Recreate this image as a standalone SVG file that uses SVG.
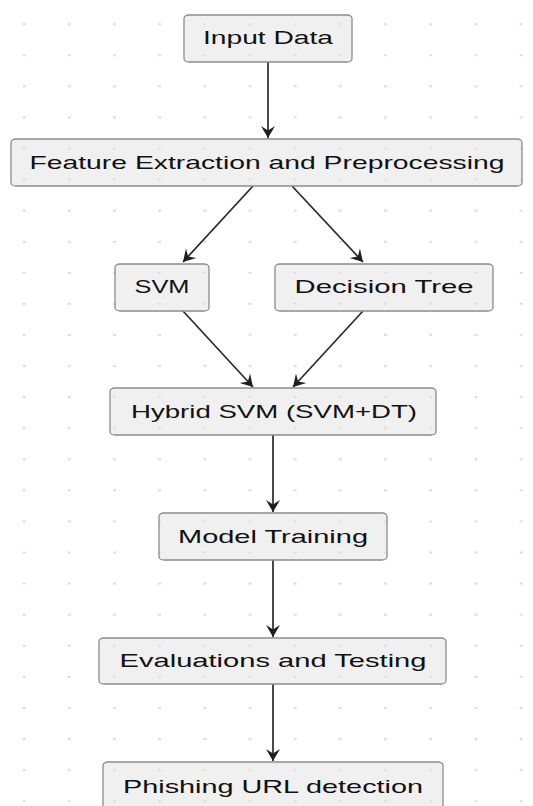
<svg xmlns="http://www.w3.org/2000/svg" width="533" height="806" viewBox="0 0 533 806">
  <defs>
    <pattern id="dots" patternUnits="userSpaceOnUse" x="0" y="0" width="45.18" height="31.08">
      <rect x="22.7" y="23.2" width="2.8" height="1.8" fill="#d6d6d6"/>
    </pattern>
    <marker id="arrow" markerUnits="userSpaceOnUse" markerWidth="18" markerHeight="18" viewBox="-13 -9 15 18" refX="0" refY="0" orient="auto">
      <path d="M0,0 L-12,-7 L-7.5,0 L-12,7 Z" fill="#1e1e1e"/>
    </marker>
    <style>
      .box { fill: #e2e2e2; fill-opacity: 0.5; stroke: #8c8c8c; stroke-width: 1.3; }
      .lbl { font-family: "Liberation Sans", Arial, sans-serif; font-size: 18.5px; fill: #111; text-anchor: middle; }
      .edge { stroke: #2a2a2a; stroke-width: 1.7; fill: none; marker-end: url(#arrow); }
    </style>
  </defs>
  <rect x="0" y="0" width="533" height="806" fill="#ffffff"/>
  <rect x="0" y="0" width="533" height="806" fill="url(#dots)"/>

  <g id="connectors">
    <line class="edge" x1="268" y1="62" x2="268" y2="138"/>
    <line class="edge" x1="253" y1="186" x2="183" y2="262"/>
    <line class="edge" x1="292" y1="186" x2="363" y2="262"/>
    <line class="edge" x1="183" y1="311" x2="253" y2="387"/>
    <line class="edge" x1="363" y1="311" x2="293" y2="387"/>
    <line class="edge" x1="273" y1="435" x2="273" y2="512"/>
    <line class="edge" x1="273" y1="560" x2="273" y2="637"/>
    <line class="edge" x1="273" y1="684" x2="273" y2="761"/>
  </g>

  <g id="input-data">
    <rect class="box" x="184" y="15" width="168" height="47" rx="5" ry="3.5"/>
    <text class="lbl" x="268" y="44" textLength="130" lengthAdjust="spacingAndGlyphs">Input Data</text>
  </g>
  <g id="feature-extraction">
    <rect class="box" x="11" y="139" width="511" height="47" rx="5" ry="3.5"/>
    <text class="lbl" x="267" y="169" textLength="475" lengthAdjust="spacingAndGlyphs">Feature Extraction and Preprocessing</text>
  </g>
  <g id="svm">
    <rect class="box" x="115" y="264" width="94" height="47" rx="5" ry="3.5"/>
    <text class="lbl" x="162" y="293" textLength="55" lengthAdjust="spacingAndGlyphs">SVM</text>
  </g>
  <g id="decision-tree">
    <rect class="box" x="275" y="264" width="218" height="47" rx="5" ry="3.5"/>
    <text class="lbl" x="384" y="293" textLength="179" lengthAdjust="spacingAndGlyphs">Decision Tree</text>
  </g>
  <g id="hybrid-svm">
    <rect class="box" x="110" y="388" width="326" height="47" rx="5" ry="3.5"/>
    <text class="lbl" x="274" y="418" textLength="286" lengthAdjust="spacingAndGlyphs">Hybrid SVM (SVM+DT)</text>
  </g>
  <g id="model-training">
    <rect class="box" x="159" y="513" width="228" height="47" rx="5" ry="3.5"/>
    <text class="lbl" x="273" y="543" textLength="190" lengthAdjust="spacingAndGlyphs">Model Training</text>
  </g>
  <g id="evaluations-testing">
    <rect class="box" x="99" y="638" width="347" height="46" rx="5" ry="3.5"/>
    <text class="lbl" x="273" y="667" textLength="307" lengthAdjust="spacingAndGlyphs">Evaluations and Testing</text>
  </g>
  <g id="phishing-detection">
    <rect class="box" x="103" y="762" width="340" height="47" rx="5" ry="3.5"/>
    <text class="lbl" x="273" y="793" textLength="300" lengthAdjust="spacingAndGlyphs">Phishing URL detection</text>
  </g>
</svg>
